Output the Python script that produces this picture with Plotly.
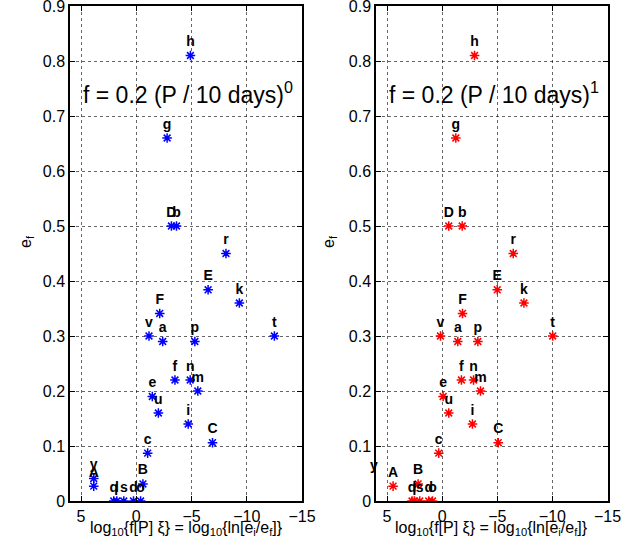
import plotly.graph_objects as go

# ---- data ----
labels = ["a", "b", "c", "d", "e", "f", "g", "h", "i", "k", "l", "m", "n", "o",
          "p", "q", "r", "s", "t", "u", "v", "y", "A", "B", "C", "D", "E", "F"]
e_final = [0.29, 0.50, 0.087, 0.0, 0.19, 0.22, 0.66, 0.81, 0.14, 0.36, 0.0, 0.20, 0.22, 0.0,
           0.29, 0.0, 0.45, 0.0, 0.30, 0.16, 0.30, 0.041, 0.027, 0.031, 0.106, 0.50, 0.384, 0.341]
# x = log10{f[P] xi} with f = 0.2 (P/10 days)^0
x_exp0 = [-2.39, -3.64, -1.03, 0.25, -1.45, -3.50, -2.79, -4.90, -4.70, -9.33, 1.76, -5.57, -4.88, -0.39,
          -5.30, 2.04, -8.12, 1.13, -12.50, -2.00, -1.15, 3.85, 3.85, -0.60, -6.90, -3.18, -6.50, -2.12]
# x = log10{f[P] xi} with f = 0.2 (P/10 days)^1
x_exp1 = [-1.42, -1.82, 0.31, 1.22, -0.09, -1.75, -1.24, -2.94, -2.75, -7.42, 2.52, -3.48, -2.85, 0.88,
          -3.24, 2.73, -6.45, 2.03, -10.03, -0.60, 0.15, 6.15, 4.45, 2.18, -5.09, -0.60, -5.00, -1.85]

x_range = [6, -15]
y_range = [0, 0.9]
x_tickvals = [5, 0, -5, -10, -15]
x_ticktext = ["5", "0", "\u22125", "\u221210", "\u221215"]
y_tickvals = [0, 0.1, 0.2, 0.3, 0.4, 0.5, 0.6, 0.7, 0.8, 0.9]
y_ticktext = ["0", "0.1", "0.2", "0.3", "0.4", "0.5", "0.6", "0.7", "0.8", "0.9"]
panel_titles = ["f = 0.2 (P / 10 days)<sup>0</sup>", "f = 0.2 (P / 10 days)<sup>1</sup>"]
x_title = "log<sub>10</sub>{f[P] \u03be} = log<sub>10</sub>{ln[e<sub>i</sub>/e<sub>f</sub>]}"
y_title = "e<sub>f</sub>"

W, H = 632, 548
FONT = "Liberation Sans, Arial, Helvetica, sans-serif"
LABEL_SIZE = 14

fig = go.Figure()

panels = [
    (x_exp0, "rgb(0,0,255)", "x", "y", [70, 302]),
    (x_exp1, "rgb(255,0,0)", "x2", "y2", [376, 607.5]),
]

xmin, xmax = min(x_range), max(x_range)

for xs, col, xa, ya, dom in panels:
    fig.add_trace(go.Scatter(
        x=xs, y=e_final, mode="markers", xaxis=xa, yaxis=ya,
        marker=dict(symbol="asterisk-open", size=8, color=col,
                    line=dict(color=col, width=1.5)),
        cliponaxis=True, showlegend=False, hoverinfo="skip"))
    inside = [i for i, v in enumerate(xs) if xmin <= v <= xmax]
    outside = [i for i, v in enumerate(xs) if not (xmin <= v <= xmax)]
    fig.add_trace(go.Scatter(
        x=[xs[i] for i in inside], y=[e_final[i] for i in inside],
        mode="markers+text", xaxis=xa, yaxis=ya, text=[labels[i] for i in inside],
        textposition="top center",
        textfont=dict(family=FONT, size=LABEL_SIZE, color="black", weight="bold"),
        marker=dict(size=8, color="rgba(0,0,0,0)"),
        cliponaxis=False, showlegend=False, hoverinfo="skip"))
    # labels whose point lies beyond the axis range (MATLAB text is not clipped):
    # anchor at the range edge and shift by the remaining data distance
    px_per_unit = (dom[1] - dom[0]) / (xmax - xmin)
    for i in outside:
        xc = max(min(xs[i], xmax), xmin)
        fig.add_annotation(x=xc, y=e_final[i], xref=xa, yref=ya, text=labels[i],
                           showarrow=False, xanchor="center", yanchor="bottom", yshift=3,
                           xshift=-(xs[i] - xc) * px_per_unit,
                           font=dict(family=FONT, size=LABEL_SIZE, color="black", weight="bold"))

axis_common = dict(
    showline=True, linecolor="black", linewidth=1.5, mirror="ticks",
    ticks="inside", ticklen=5, tickcolor="black", tickwidth=1,
    showgrid=True, gridcolor="rgba(0,0,0,0.6)", griddash="dot", gridwidth=1,
    zeroline=False, tickfont=dict(family=FONT, size=16, color="black"),
    ticklabeloverflow="allow", automargin=False,
)

y0 = (H - 501) / H
y1 = (H - 6) / H

for i, (xs, col, xa, ya, dom) in enumerate(panels):
    xkey = "xaxis" if xa == "x" else "xaxis2"
    ykey = "yaxis" if ya == "y" else "yaxis2"
    fig.update_layout(**{
        xkey: dict(axis_common, domain=[dom[0] / W, dom[1] / W], range=x_range,
                   tickvals=x_tickvals, ticktext=x_ticktext, anchor=ya),
        ykey: dict(axis_common, domain=[y0, y1], range=y_range,
                   tickvals=y_tickvals, ticktext=y_ticktext, anchor=xa),
    })
    fig.add_annotation(x=5, y=0.742, xref=xa, yref=ya, text=panel_titles[i],
                       showarrow=False, xanchor="left", yanchor="middle",
                       font=dict(family=FONT, size=23, color="black"))
    cx = (dom[0] + dom[1]) / 2
    fig.add_annotation(x=cx / W, y=(H - 528) / H, xref="paper", yref="paper",
                       text=x_title, showarrow=False, xanchor="center", yanchor="middle",
                       font=dict(family=FONT, size=16, color="black"))
    yx = 27 if i == 0 else 330
    fig.add_annotation(x=yx / W, y=(H - 242) / H, xref="paper", yref="paper",
                       text=y_title, showarrow=False, textangle=-90,
                       xanchor="center", yanchor="middle",
                       font=dict(family=FONT, size=16, color="black"))

fig.update_layout(
    width=W, height=H, margin=dict(l=0, r=0, t=0, b=0, autoexpand=False),
    paper_bgcolor="white", plot_bgcolor="white",
)

fig.write_html("out.html", config={"displayModeBar": False},
               post_script="document.body.style.margin='0px';document.body.style.overflow='hidden';")
